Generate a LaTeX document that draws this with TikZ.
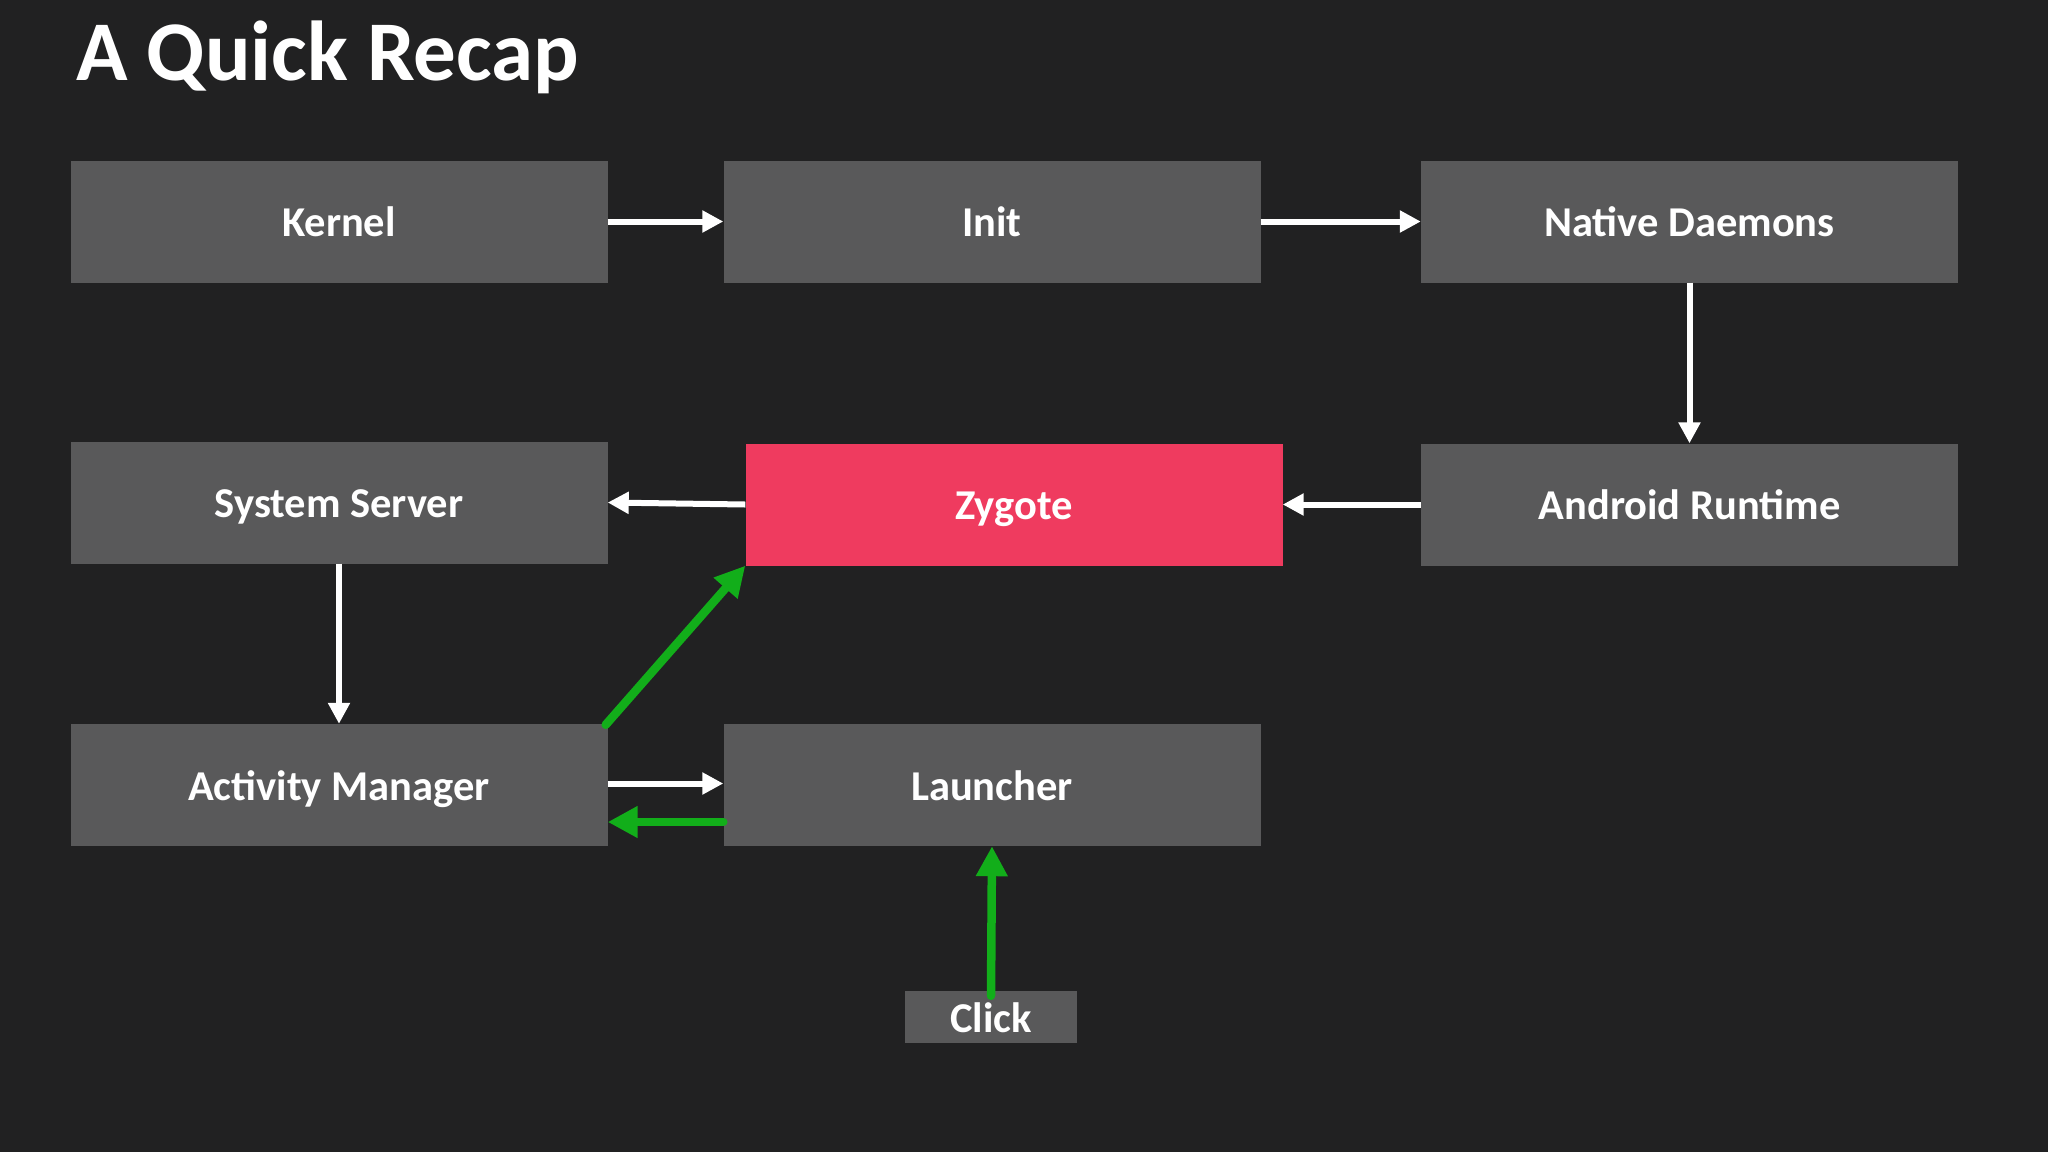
\documentclass[tikz,border=0pt]{standalone}
\usepackage{fontspec}
\setmainfont{Carlito}
\usetikzlibrary{arrows.meta}
\definecolor{bgc}{RGB}{33,33,34}
\definecolor{boxc}{RGB}{89,89,90}
\definecolor{zyg}{RGB}{239,59,95}
\definecolor{grn}{RGB}{18,174,26}
\tikzset{
  blk/.style={fill=boxc, draw=none, inner sep=0pt, minimum width=537pt, minimum height=122pt,
    text=white, font=\bfseries\fontsize{42.5}{50}\selectfont, text height=30pt, text depth=0pt},
  warrow/.style={draw=white, line width=6pt, -{Triangle[length=21pt,width=21pt]}},
  garrow/.style={draw=grn, line width=8.5pt, line cap=round, -{Triangle[length=30pt,width=30pt]}}
}
\begin{document}
\begin{tikzpicture}[x=1pt,y=-1pt]
\fill[bgc] (0,0) rectangle (2048,1152);
\useasboundingbox (0,0) rectangle (2048,1152);
\node[anchor=base west, text=white, font=\bfseries\fontsize{85}{100}\selectfont, inner sep=0pt] (title) at (76,80) {A Quick Recap};

\node[blk] (kernel) at (339,221.5) {Kernel};
\node[blk] (init) at (992,221.5) {Init};
\node[blk] (native) at (1689.5,221.5) {Native Daemons};
\node[blk] (sys) at (339,502.5) {System Server};
\node[blk, fill=zyg] (zygote) at (1014,504.5) {Zygote};
\node[blk] (art) at (1689.5,504.5) {Android Runtime};
\node[blk] (am) at (339,785) {Activity Manager};
\node[blk] (launcher) at (992,785) {Launcher};
\node[blk, minimum width=172pt, minimum height=52pt] (click) at (991,1017) {Click};

\draw[warrow] (kernel.east) -- (init.west);
\draw[warrow] (init.east) -- (native.west);
\draw[warrow] (native.south) -- (art.north);
\draw[warrow] (art.west) -- (zygote.east);
\draw[warrow] (zygote.west) -- (sys.east);
\draw[warrow] (sys.south) -- (am.north);
\draw[warrow] ([yshift=1.5pt]am.east) -- ([yshift=1.5pt]launcher.west);
\draw[garrow] ([yshift=-37pt]launcher.west) -- ([yshift=-37pt]am.east);
\draw[garrow] ([xshift=-2pt,yshift=-1pt]am.north east) -- (zygote.south west);
\draw[garrow] ([yshift=-5pt]click.north) -- (launcher.south);
\end{tikzpicture}
\end{document}
